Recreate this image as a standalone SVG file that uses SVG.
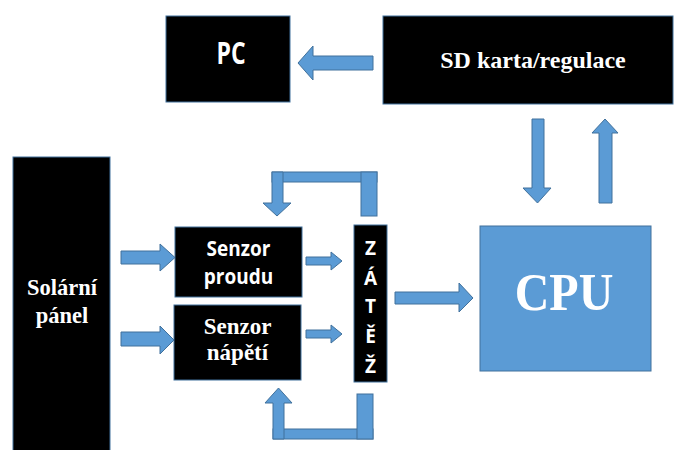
<svg xmlns="http://www.w3.org/2000/svg" width="677" height="450" viewBox="0 0 677 450">
<style>
.box{fill:#000;stroke:#41719C;stroke-width:1}
.arr{fill:#5B9BD5;stroke:#41719C;stroke-width:1}
.sans{font-family:"Open Sans","Liberation Sans",sans-serif;font-weight:700;fill:#fff;text-anchor:middle}
.serif{font-family:"Liberation Serif","DejaVu Serif",serif;font-weight:700;fill:#fff;text-anchor:middle}
</style>
<rect width="677" height="450" fill="#fff"/>
<g id="pc">
<rect class="box" x="166" y="16" width="124" height="86"/>
<text class="sans" font-size="23" transform="translate(231,64) scale(1,1.3)">PC</text>
</g>
<g id="sd">
<rect class="box" x="383" y="16" width="290" height="88"/>
<text class="serif" font-size="24" x="533" y="68">SD karta/regulace</text>
</g>
<g id="solar">
<rect class="box" x="13" y="157" width="97" height="300"/>
<text class="serif" font-size="22.5" x="62" y="295">Solární</text>
<text class="serif" font-size="22.5" x="62" y="323">pánel</text>
</g>
<g id="senzor-proudu">
<rect class="box" x="175" y="227" width="127" height="70"/>
<text class="sans" font-size="19" transform="translate(238.5,256) scale(1,1.17)">Senzor</text>
<text class="sans" font-size="19" transform="translate(238.5,284) scale(1,1.17)">proudu</text>
</g>
<g id="senzor-napeti">
<rect class="box" x="174" y="305" width="127" height="75"/>
<text class="serif" font-size="23" x="237.5" y="334">Senzor</text>
<text class="serif" font-size="23" x="237.5" y="360">nápětí</text>
</g>
<g id="zatez">
<rect class="box" x="354" y="225" width="33" height="157"/>
<text class="sans" font-size="19" x="370.5" y="255">Z</text>
<text class="sans" font-size="19" x="370.5" y="285">Á</text>
<text class="sans" font-size="19" x="370.5" y="313">T</text>
<text class="sans" font-size="19" x="370.5" y="343">Ě</text>
<text class="sans" font-size="19" x="370.5" y="373">Ž</text>
</g>
<g id="cpu">
<rect x="480" y="226" width="171" height="145" fill="#5B9BD5" stroke="#41719C" stroke-width="1"/>
<text class="serif" font-size="48" transform="translate(564,310) scale(1,1.1)">CPU</text>
</g>
<g id="connectors">
<polygon class="arr" points="373,56 313,56 313,46 298,63 313,80 313,70 373,70"/>
<polygon class="arr" points="121,251 160,251 160,244 175,257.5 160,271 160,264 121,264"/>
<polygon class="arr" points="121,332 160,332 160,326 174,340 160,354 160,346 121,346"/>
<polygon class="arr" points="306,257 331,257 331,252 342,261 331,270 331,265 306,265"/>
<polygon class="arr" points="306,330 331,330 331,325 342,334 331,343 331,338 306,338"/>
<polygon class="arr" points="395,292 459,292 459,283 473,298 459,312 459,304 395,304"/>
<polygon class="arr" points="532,119 544,119 544,188 551,188 537.5,203 523,188 532,188"/>
<polygon class="arr" points="599,203 612,203 612,133 618,133 605,119 592,133 599,133"/>
<rect class="arr" x="272" y="172" width="105" height="10"/>
<polygon class="arr" points="272,172 283,172 283,203 291,203 277,216 263,203 272,203"/>
<rect class="arr" x="361" y="172" width="16" height="44"/>
<rect class="arr" x="273" y="429" width="100" height="10"/>
<polygon class="arr" points="273,439 284,439 284,403 292,403 278.5,388 265,403 273,403"/>
<rect class="arr" x="357" y="394" width="16" height="45"/>
</g>
</svg>
